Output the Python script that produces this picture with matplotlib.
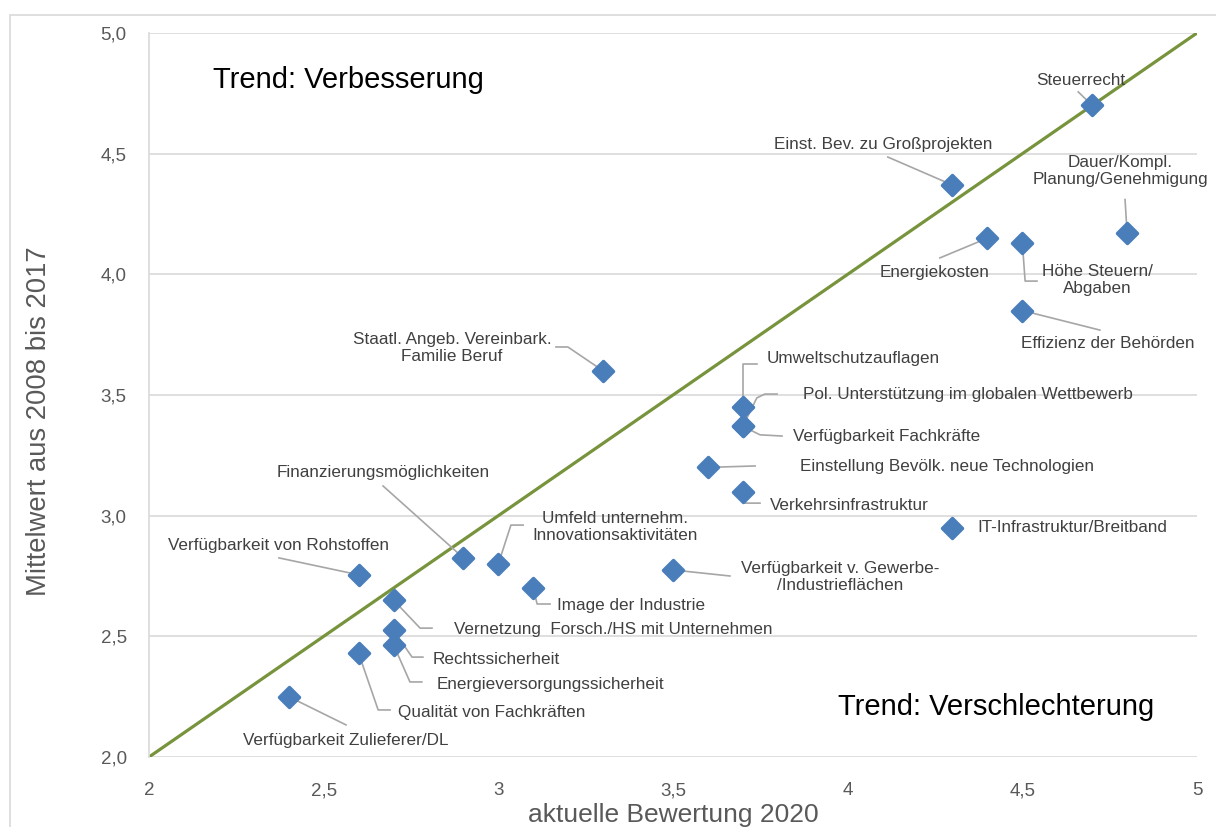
import matplotlib.pyplot as plt
from matplotlib.markers import MarkerStyle
from matplotlib.patches import Rectangle
from matplotlib.ticker import FixedLocator, FuncFormatter

plt.rcParams['font.family'] = ['Liberation Sans', 'DejaVu Sans']

# Standortfaktoren: aktuelle Bewertung 2020 vs. Mittelwert 2008-2017
faktoren = [
    'Steuerrecht',
    'Einst. Bev. zu Großprojekten',
    'Dauer/Kompl.\nPlanung/Genehmigung',
    'Energiekosten',
    'Höhe Steuern/\nAbgaben',
    'Effizienz der Behörden',
    'Staatl. Angeb. Vereinbark.\nFamilie Beruf',
    'Umweltschutzauflagen',
    'Pol. Unterstützung im globalen Wettbewerb',
    'Verfügbarkeit Fachkräfte',
    'Einstellung Bevölk. neue Technologien',
    'Verkehrsinfrastruktur',
    'IT-Infrastruktur/Breitband',
    'Finanzierungsmöglichkeiten',
    'Umfeld unternehm.\nInnovationsaktivitäten',
    'Verfügbarkeit v. Gewerbe-\n/Industrieflächen',
    'Image der Industrie',
    'Verfügbarkeit von Rohstoffen',
    'Vernetzung  Forsch./HS mit Unternehmen',
    'Rechtssicherheit',
    'Energieversorgungssicherheit',
    'Qualität von Fachkräften',
    'Verfügbarkeit Zulieferer/DL',
]
bewertung_2020 = [4.7, 4.3, 4.8, 4.4, 4.5, 4.5, 3.3, 3.7, 3.7, 3.7, 3.6, 3.7,
                  4.3, 2.9, 3.0, 3.5, 3.1, 2.6, 2.7, 2.7, 2.7, 2.6, 2.4]
mittel_2008_2017 = [4.70, 4.37, 4.17, 4.15, 4.13, 3.85, 3.60, 3.45, 3.37, 3.37,
                    3.20, 3.10, 2.95, 2.825, 2.80, 2.775, 2.70, 2.755, 2.65,
                    2.525, 2.465, 2.43, 2.25]

x_ticks = [2, 2.5, 3, 3.5, 4, 4.5, 5]
y_ticks = [2.0, 2.5, 3.0, 3.5, 4.0, 4.5, 5.0]

# Beschriftungen: Textposition, Ausrichtung, Knickpunkte der Verbindungslinie
beschriftung = [
    ((4.668, 4.805), 'center', [(4.66, 4.756)]),
    ((4.101, 4.540), 'center', [(4.115, 4.486)]),
    ((4.780, 4.428), 'center', [(4.794, 4.310)]),
    ((4.248, 4.006), 'center', [(4.264, 4.068)]),
    ((4.714, 3.977), 'center', [(4.508, 3.972), (4.542, 3.972)]),
    ((4.745, 3.715), 'center', [(4.722, 3.769)]),
    ((2.867, 3.695), 'center', [(3.199, 3.699), (3.165, 3.699)]),
    ((3.769, 3.653), 'left', [(3.700, 3.628), (3.740, 3.628)]),
    ((3.872, 3.504), 'left', [(3.740, 3.488), (3.763, 3.504), (3.798, 3.504)]),
    ((3.844, 3.330), 'left', [(3.749, 3.335), (3.812, 3.330)]),
    ((3.864, 3.202), 'left', [(3.735, 3.206)]),
    ((3.778, 3.044), 'left', [(3.706, 3.052), (3.749, 3.052)]),
    ((4.370, 2.949), 'left', []),
    ((2.670, 3.177), 'center', [(2.670, 3.123)]),
    ((3.334, 2.953), 'center', [(3.036, 2.961), (3.071, 2.961)]),
    ((3.978, 2.746), 'center', [(3.663, 2.750)]),
    ((3.168, 2.626), 'left', [(3.111, 2.634), (3.148, 2.634)]),
    ((2.372, 2.878), 'center', [(2.372, 2.825)]),
    ((2.873, 2.530), 'left', [(2.776, 2.534), (2.810, 2.534)]),
    ((2.813, 2.406), 'left', [(2.753, 2.414), (2.784, 2.414)]),
    ((2.824, 2.302), 'left', [(2.747, 2.311), (2.781, 2.311)]),
    ((2.713, 2.186), 'left', [(2.656, 2.195), (2.690, 2.195)]),
    ((2.564, 2.070), 'center', [(2.564, 2.133)]),
]

fig = plt.figure(figsize=(12.16, 8.27), dpi=100)
fig.patches.append(Rectangle((10 / 1216, -0.1), 1.2, 1 - 15 / 827 + 0.1,
                             transform=fig.transFigure, fill=False,
                             edgecolor='#d9d9d9', linewidth=1.2))
ax = fig.add_axes([149 / 1216, 70 / 827, 1048 / 1216, 724 / 827])

ax.set_xlim(2, 5)
ax.set_ylim(2, 5)
for sp in ['top', 'right', 'bottom']:
    ax.spines[sp].set_visible(False)
ax.spines['left'].set_color('#d9d9d9')
ax.spines['left'].set_linewidth(1.2)
ax.xaxis.set_major_locator(FixedLocator(x_ticks))
ax.yaxis.set_major_locator(FixedLocator(y_ticks))
ax.xaxis.set_major_formatter(FuncFormatter(lambda v, p: ('%g' % v).replace('.', ',')))
ax.yaxis.set_major_formatter(FuncFormatter(lambda v, p: ('%.1f' % v).replace('.', ',')))
ax.tick_params(length=0, labelsize=13.5, labelcolor='#595959')
ax.tick_params(axis='x', pad=18)
ax.tick_params(axis='y', pad=16)
ax.grid(axis='y', color='#d9d9d9', linewidth=1.2)
ax.set_axisbelow(True)

ax.plot([2, 5], [2, 5], color='#77933c', linewidth=2.3, zorder=2)

for i, name in enumerate(faktoren):
    (tx, ty), ha, knicke = beschriftung[i]
    px, py = bewertung_2020[i], mittel_2008_2017[i]
    if knicke:
        xs = [px] + [k[0] for k in knicke]
        ys = [py] + [k[1] for k in knicke]
        ax.plot(xs, ys, color='#a6a6a6', linewidth=1.2, zorder=3)
    ax.text(tx, ty, name, ha=ha, va='center', fontsize=12.3, color='#404040',
            linespacing=1.15, multialignment='center', zorder=5)

diamant = MarkerStyle('D', joinstyle='round')
ax.plot(bewertung_2020, mittel_2008_2017, linestyle='none', marker=diamant,
        markersize=10, markerfacecolor='#4a7ebb', markeredgecolor='#4a7ebb',
        markeredgewidth=2.5, zorder=4)

ax.text(2.183, 4.805, 'Trend: Verbesserung', fontsize=21, color='black',
        ha='left', va='center')
ax.text(3.972, 2.207, 'Trend: Verschlechterung', fontsize=21, color='black',
        ha='left', va='center')

ax.set_xlabel('aktuelle Bewertung 2020', fontsize=19, color='#595959', va='center')
ax.xaxis.set_label_coords(0.5, -58 / 724)
ax.set_ylabel('Mittelwert aus 2008 bis 2017', fontsize=19.7, color='#595959', va='center')
ax.yaxis.set_label_coords(-110 / 1048, 336 / 724)

fig.savefig('out.png', dpi=100)
